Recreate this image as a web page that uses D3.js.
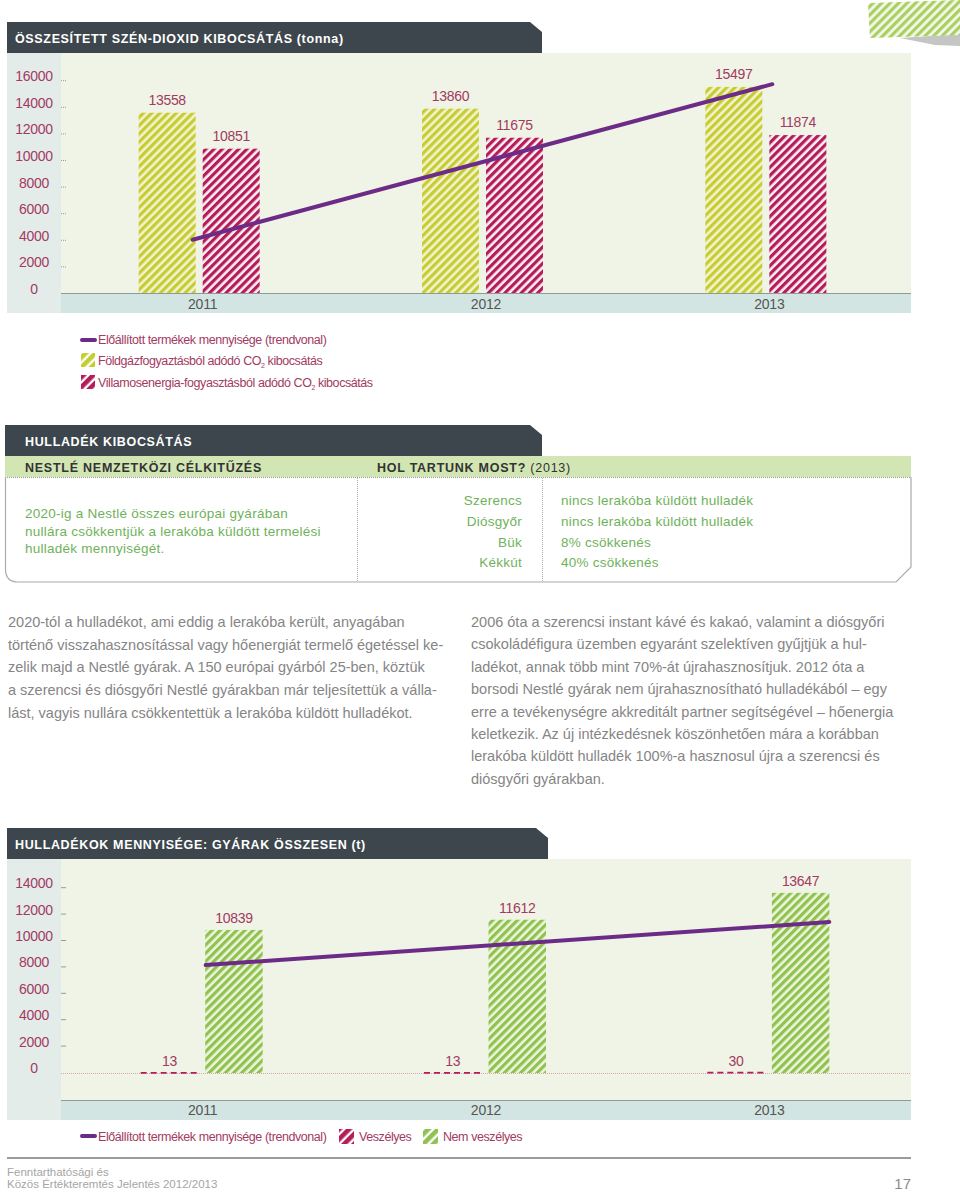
<!DOCTYPE html>
<html><head><meta charset="utf-8">
<script src="https://cdn.jsdelivr.net/npm/d3@7"></script>
<style>
body{margin:0;background:#fff}
svg{display:block;font-family:"Liberation Sans",Arial,Helvetica,sans-serif}
</style>
</head><body>
<script>
// ---------- DATA ----------
const years = ['2011','2012','2013'];
const gasCO2 = [13558, 13860, 15497];          // Földgázfogyasztásból adódó CO2
const elecCO2 = [10851, 11675, 11874];         // Villamosenergia-fogyasztásból adódó CO2
const co2Ticks = [0,2000,4000,6000,8000,10000,12000,14000,16000];
const co2Trend = [4000, 15700];                // trendline start (2011) / end (2013)
const hazardousWaste = [13, 13, 30];           // Veszélyes
const nonHazardousWaste = [10839, 11612, 13647]; // Nem veszélyes
const wasteTicks = [0,2000,4000,6000,8000,10000,12000,14000];
const wasteTrend = [8180, 11440];
const targetLines = ['2020-ig a Nestlé összes európai gyárában','nullára csökkentjük a lerakóba küldött termelési','hulladék mennyiségét.'];
const siteNames = ['Szerencs','Diósgyőr','Bük','Kékkút'];
const siteStatus = ['nincs lerakóba küldött hulladék','nincs lerakóba küldött hulladék','8% csökkenés','40% csökkenés'];
const paraLeft = [
 '2020-tól a hulladékot, ami eddig a lerakóba került, anyagában',
 'történő visszahasznosítással vagy hőenergiát termelő égetéssel ke-',
 'zelik majd a Nestlé gyárak. A 150 európai gyárból 25-ben, köztük',
 'a szerencsi és diósgyőri Nestlé gyárakban már teljesítettük a válla-',
 'lást, vagyis nullára csökkentettük a lerakóba küldött hulladékot.'];
const paraRight = [
 '2006 óta a szerencsi instant kávé és kakaó, valamint a diósgyőri',
 'csokoládéfigura üzemben egyaránt szelektíven gyűjtjük a hul-',
 'ladékot, annak több mint 70%-át újrahasznosítjuk. 2012 óta a',
 'borsodi Nestlé gyárak nem újrahasznosítható hulladékából – egy',
 'erre a tevékenységre akkreditált partner segítségével – hőenergia',
 'keletkezik. Az új intézkedésnek köszönhetően mára a korábban',
 'lerakóba küldött hulladék 100%-a hasznosul újra a szerencsi és',
 'diósgyőri gyárakban.'];

// ---------- STYLE ----------
const C = {
  dark:'#3c464c', plot:'#f0f4e6', axisCol:'#e4ecea', band:'#d3e5e2',
  mag:'#a23a62', purple:'#6c2b86', yel:'#c6cd34', yelBg:'#f4f3cf',
  red:'#b51c5a', redBg:'#fbf1f3', grn:'#8fc24f', grnBg:'#eef5dd',
  gray:'#858585'
};

const svg = d3.select('body').append('svg').attr('width',960).attr('height',1192);
const defs = svg.append('defs');
function stripe(id, bg, fg, period, w){
  const p = defs.append('pattern').attr('id',id).attr('patternUnits','userSpaceOnUse')
    .attr('width',period).attr('height',period).attr('patternTransform','rotate(45)');
  p.append('rect').attr('width',period).attr('height',period).attr('fill',bg);
  p.append('rect').attr('width',w).attr('height',period).attr('fill',fg);
}
stripe('pY', C.yelBg, C.yel, 5.8, 3.2);
stripe('pR', C.redBg, C.red, 5.8, 3.2);
stripe('pG', C.grnBg, C.grn, 5.8, 3.2);
stripe('iY', '#fff', C.yel, 7, 4.6);
stripe('iR', '#fff', C.red, 7, 4.6);
stripe('iG', '#fff', C.grn, 7, 4.6);
stripe('pTape', '#f4f8ea', '#a9d061', 6, 3.2);

// decorative tape
svg.append('polygon').attr('points','900,38 960,34 960,46 935,45').attr('fill','#c4c6c4');
svg.append('polygon').attr('points','868,3 960,0 960,35 870,38').attr('fill','url(#pTape)');

function header(y, x0, x1, tx, text){
  svg.append('polygon')
    .attr('points',`${x0},${y} ${x1-12},${y} ${x1},${y+10} ${x1},${y+31} ${x0},${y+31}`)
    .attr('fill',C.dark);
  svg.append('text').attr('x',tx).attr('y',y+21).text(text)
    .attr('fill','#fff').attr('font-weight','bold').attr('font-size',12.5).attr('letter-spacing',0.65);
}

// ---------- CHART 1 ----------
header(22, 7, 542, 15, 'ÖSSZESÍTETT SZÉN-DIOXID KIBOCSÁTÁS (tonna)');
svg.append('rect').attr('x',7).attr('y',53).attr('width',54).attr('height',260).attr('fill',C.axisCol);
svg.append('rect').attr('x',61).attr('y',53).attr('width',850).attr('height',240).attr('fill',C.plot);
svg.append('rect').attr('x',61).attr('y',293).attr('width',850).attr('height',20).attr('fill',C.band);
svg.append('line').attr('x1',61).attr('x2',911).attr('y1',293.5).attr('y2',293.5).attr('stroke','#8c9c9b');

const x1 = d3.scaleBand().domain(years).range([61,911]);
const bw1 = x1.bandwidth();
const inner1 = d3.scaleBand().domain(['gas','elec']).range([0,121]).paddingInner(0.11);
const y1 = d3.scaleLinear().domain([0,16000]).range([293,80.2]);

const yAx1 = svg.append('g');
co2Ticks.forEach(t=>{
  yAx1.append('text').attr('x',34).attr('y',y1(t)+1).attr('text-anchor','middle')
    .attr('fill',C.mag).attr('font-size',14).attr('letter-spacing',-0.3).text(t);
  if(t>0) yAx1.append('line').attr('x1',61).attr('x2',66).attr('y1',y1(t)+0.5).attr('y2',y1(t)+0.5)
    .attr('stroke','#999').attr('stroke-dasharray','1,1');
});
const g1 = svg.append('g');
years.forEach((yr,i)=>{
  const gx = x1(yr)+bw1/2-64;
  [['gas',gasCO2[i],'pY'],['elec',elecCO2[i],'pR']].forEach(([k,v,p])=>{
    const bx = gx+inner1(k);
    g1.append('rect').attr('x',bx).attr('y',y1(v)).attr('width',inner1.bandwidth()).attr('height',y1(0)-y1(v)).attr('fill',`url(#${p})`);
    g1.append('text').attr('x',bx+inner1.bandwidth()/2).attr('y',y1(v)-8).attr('text-anchor','middle')
      .attr('fill',C.mag).attr('font-size',14).attr('letter-spacing',-0.3).text(v);
  });
  svg.append('text').attr('x',x1(yr)+bw1/2).attr('y',309).attr('text-anchor','middle')
    .attr('fill','#555').attr('font-size',14).attr('letter-spacing',-0.2).text(yr);
});
const trend1 = [[x1('2011')+bw1/2-10, co2Trend[0]],[x1('2013')+bw1/2+3, co2Trend[1]]];
svg.append('path').attr('d',d3.line().x(d=>d[0]).y(d=>y1(d[1]))(trend1))
  .attr('stroke',C.purple).attr('stroke-width',4).attr('fill','none').attr('stroke-linecap','round');

// legend 1
function legLine(x,y){ svg.append('line').attr('x1',x).attr('x2',x+13).attr('y1',y).attr('y2',y)
  .attr('stroke',C.purple).attr('stroke-width',4).attr('stroke-linecap','round'); }
function legText(x,y,s){
  return svg.append('text').attr('x',x).attr('y',y).attr('fill',C.mag).attr('font-size',12.5).attr('letter-spacing',-0.43).text(s);
}
function legCO2(x,y,pre){
  const t = svg.append('text').attr('x',x).attr('y',y).attr('fill',C.mag).attr('font-size',12.5).attr('letter-spacing',-0.43);
  t.append('tspan').text(pre+'CO');
  t.append('tspan').attr('font-size',7).attr('dy',3).text('2');
  t.append('tspan').attr('dy',-3).text(' kibocsátás');
}
legLine(82,340);
legText(98,344,'Előállított termékek mennyisége (trendvonal)');
svg.append('rect').attr('x',81).attr('y',353).attr('width',14).attr('height',14).attr('fill','url(#iY)');
legCO2(98,365,'Földgázfogyaztásból adódó ');
svg.append('rect').attr('x',81).attr('y',375).attr('width',14).attr('height',14).attr('fill','url(#iR)');
legCO2(98,387,'Villamosenergia-fogyasztásból adódó ');

// ---------- TABLE ----------
header(425, 5, 542, 25, 'HULLADÉK KIBOCSÁTÁS');
svg.append('rect').attr('x',5).attr('y',456).attr('width',906).attr('height',21).attr('fill','#d2e6b3');
svg.append('line').attr('x1',5).attr('x2',911).attr('y1',477.5).attr('y2',477.5).attr('stroke','#999').attr('stroke-dasharray','1,1');
svg.append('path').attr('d','M5.5,477 L5.5,569 Q5.5,582 18,582 L896,582 L911,567 L911,477')
  .attr('fill','none').attr('stroke','#aaa').attr('stroke-width',1.2);
[357,542].forEach(x=>svg.append('line').attr('x1',x+.5).attr('x2',x+.5).attr('y1',478).attr('y2',582)
  .attr('stroke','#aaa').attr('stroke-dasharray','1,1'));
svg.append('text').attr('x',25).attr('y',472).attr('font-weight','bold').attr('font-size',12.5)
  .attr('letter-spacing',0.75).attr('fill','#333').text('NESTLÉ NEMZETKÖZI CÉLKITŰZÉS');
const hol = svg.append('text').attr('x',377).attr('y',472).attr('font-size',12.5).attr('letter-spacing',0.75).attr('fill','#333');
hol.append('tspan').attr('font-weight','bold').text('HOL TARTUNK MOST? ');
hol.append('tspan').text('(2013)');
targetLines.forEach((l,i)=>svg.append('text').attr('x',25).attr('y',518+i*17.5).attr('font-size',13.5)
  .attr('letter-spacing',0.25).attr('fill','#6fb25b').text(l));
siteNames.forEach((s,i)=>{
  svg.append('text').attr('x',522).attr('y',505+i*20.8).attr('text-anchor','end').attr('font-size',13.5)
    .attr('letter-spacing',0.25).attr('fill','#6fb25b').text(s);
  svg.append('text').attr('x',561).attr('y',505+i*20.8).attr('font-size',13.5)
    .attr('letter-spacing',0.25).attr('fill','#6fb25b').text(siteStatus[i]);
});

// ---------- PARAGRAPHS ----------
paraLeft.forEach((l,i)=>svg.append('text').attr('x',8).attr('y',627+i*22.7).attr('font-size',14.5)
  .attr('fill',C.gray).text(l));
paraRight.forEach((l,i)=>svg.append('text').attr('x',471).attr('y',627+i*22.4).attr('font-size',14.5)
  .attr('fill',C.gray).text(l));

// ---------- CHART 2 ----------
header(828, 7, 548, 15, 'HULLADÉKOK MENNYISÉGE: GYÁRAK ÖSSZESEN (t)');
svg.append('rect').attr('x',7).attr('y',859).attr('width',54).attr('height',261).attr('fill',C.axisCol);
svg.append('rect').attr('x',61).attr('y',859).attr('width',850).attr('height',241).attr('fill',C.plot);
svg.append('rect').attr('x',61).attr('y',1100).attr('width',850).attr('height',20).attr('fill',C.band);
svg.append('line').attr('x1',61).attr('x2',911).attr('y1',1100.5).attr('y2',1100.5).attr('stroke','#8c9c9b');

const x2 = d3.scaleBand().domain(years).range([61,911]);
const bw2 = x2.bandwidth();
const inner2 = d3.scaleBand().domain(['haz','non']).range([0,122]).paddingInner(0.11);
const y2 = d3.scaleLinear().domain([0,14000]).range([1073,888.2]);
svg.append('line').attr('x1',61).attr('x2',911).attr('y1',1073.5).attr('y2',1073.5)
  .attr('stroke','#d6a9a9').attr('stroke-dasharray','1,1');
wasteTicks.forEach(t=>{
  svg.append('text').attr('x',34).attr('y',y2(t)+0).attr('text-anchor','middle')
    .attr('fill',C.mag).attr('font-size',14).attr('letter-spacing',-0.3).text(t);
  if(t>0) svg.append('line').attr('x1',61).attr('x2',66).attr('y1',y2(t)-0.5).attr('y2',y2(t)-0.5)
    .attr('stroke','#999');
});
years.forEach((yr,i)=>{
  const gx = x2(yr)+bw2/2-62;
  [['haz',hazardousWaste[i]],['non',nonHazardousWaste[i]]].forEach(([k,v])=>{
    const bx = gx+inner2(k), w = inner2.bandwidth();
    if(k==='non'){
      svg.append('rect').attr('x',bx).attr('y',y2(v)).attr('width',w).attr('height',y2(0)-y2(v)).attr('fill','url(#pG)');
    } else {
      svg.append('line').attr('x1',bx).attr('x2',bx+w).attr('y1',y2(v)).attr('y2',y2(v))
        .attr('stroke',C.red).attr('stroke-width',1.8).attr('stroke-dasharray','6,4');
    }
    svg.append('text').attr('x',bx+w/2).attr('y',y2(v)-7).attr('text-anchor','middle')
      .attr('fill',C.mag).attr('font-size',14).attr('letter-spacing',-0.3).text(v);
  });
  svg.append('text').attr('x',x2(yr)+bw2/2).attr('y',1115).attr('text-anchor','middle')
    .attr('fill','#555').attr('font-size',14).attr('letter-spacing',-0.2).text(yr);
});
const trend2 = [[x2('2011')+bw2/2+3, wasteTrend[0]],[x2('2013')+bw2/2+60, wasteTrend[1]]];
svg.append('path').attr('d',d3.line().x(d=>d[0]).y(d=>y2(d[1]))(trend2))
  .attr('stroke',C.purple).attr('stroke-width',4).attr('fill','none').attr('stroke-linecap','round');

// legend 2
legLine(82,1136);
legText(98,1141,'Előállított termékek mennyisége (trendvonal)');
svg.append('rect').attr('x',339).attr('y',1129).attr('width',15).attr('height',15).attr('fill','url(#iR)');
legText(359,1141,'Veszélyes');
svg.append('rect').attr('x',423).attr('y',1129).attr('width',15).attr('height',15).attr('fill','url(#iG)');
legText(443,1141,'Nem veszélyes');

// ---------- FOOTER ----------
svg.append('line').attr('x1',7).attr('x2',911).attr('y1',1158).attr('y2',1158).attr('stroke','#7a7a7a').attr('stroke-width',1.4);
svg.append('text').attr('x',7).attr('y',1176).attr('font-size',11.5).attr('fill','#a5a5a5').text('Fenntarthatósági és');
svg.append('text').attr('x',7).attr('y',1188).attr('font-size',11.5).attr('fill','#a5a5a5').text('Közös Értékteremtés Jelentés 2012/2013');
svg.append('text').attr('x',911).attr('y',1189).attr('text-anchor','end').attr('font-size',15).attr('fill','#8a8a8a').text('17');
</script>
</body></html>
